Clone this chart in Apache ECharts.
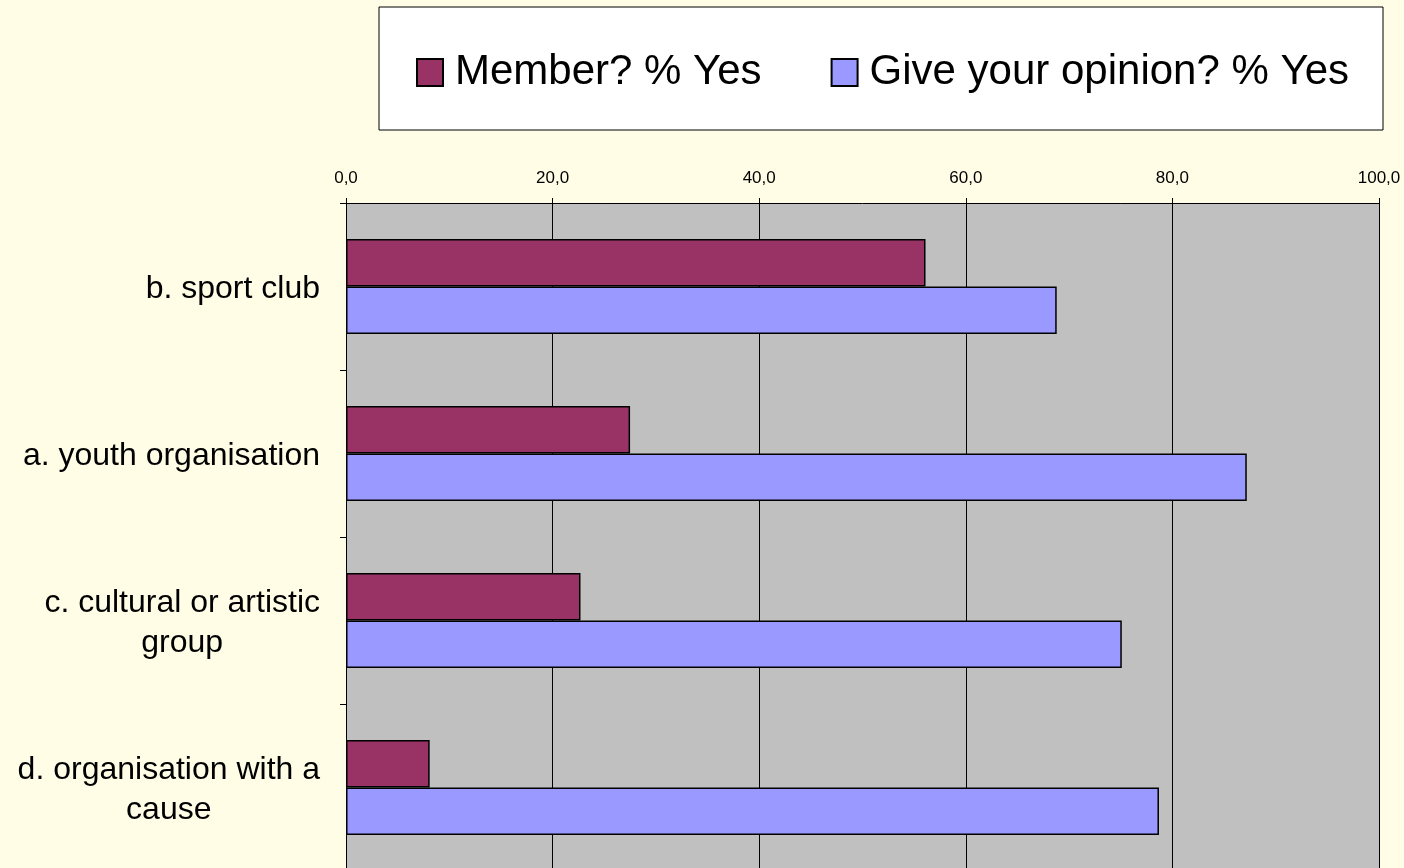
<!DOCTYPE html>
<html>
<head>
<meta charset="utf-8">
<style>
  html, body { margin: 0; padding: 0; background: #FFFDE6; }
  #chart { width: 1404px; height: 868px; }
</style>
<script src="https://cdn.jsdelivr.net/npm/echarts@6/dist/echarts.min.js"></script>
</head>
<body>
<div id="chart"></div>
<script>
// categories, top to bottom
const categories = [
  'b. sport club',
  'a. youth organisation',
  'c. cultural or artistic\ngroup',
  'd. organisation with a\ncause'
]
const memberYes = [56.1, 27.5, 22.7, 8.1]
const opinionYes = [68.8, 87.2, 75.1, 78.7]
const seriesNames = ['Member? % Yes', 'Give your opinion? % Yes']

const chart = echarts.init(document.getElementById('chart'))

chart.setOption({
  backgroundColor: '#FFFDE6',
  animation: false,
  textStyle: { fontFamily: 'Liberation Sans, Arial, sans-serif' },
  legend: {
    left: 379,
    top: 7,
    padding: [44, 34, 36, 37],
    backgroundColor: '#ffffff',
    borderColor: '#000000',
    borderWidth: 1,
    itemWidth: 26,
    itemHeight: 27,
    itemGap: 69,
    icon: 'rect',
    textStyle: {
      fontSize: 42,
      color: '#000',
      lineHeight: 43,
      padding: [0, 0, 0, 7]
    },
    data: seriesNames
  },
  grid: {
    left: 346,
    right: 25,
    top: 203,
    bottom: -3,
    containLabel: false,
    outerBoundsMode: 'none'
  },
  xAxis: {
    type: 'value',
    position: 'top',
    min: 0,
    max: 100,
    interval: 20,
    axisLine: { show: true, lineStyle: { color: '#000', width: 1 } },
    axisTick: { show: true, length: 5, lineStyle: { color: '#000' } },
    axisLabel: {
      fontSize: 17,
      color: '#000',
      margin: 16,
      formatter: v => v.toFixed(1).replace('.', ',')
    },
    splitLine: { show: true, lineStyle: { color: '#000', width: 1 } }
  },
  yAxis: {
    type: 'category',
    inverse: true,
    data: categories,
    axisLine: { show: true, lineStyle: { color: '#000', width: 1 } },
    axisTick: { show: true, length: 6, lineStyle: { color: '#000' } },
    axisLabel: {
      margin: 26,
      color: '#000',
      fontSize: 32,
      lineHeight: 40,
      padding: [5, 0, 0, 0],
      formatter: v => v.split('\n').map(s => '{c|' + s + '}').join('\n'),
      rich: {
        c: { fontSize: 32, lineHeight: 40, align: 'center', color: '#000' }
      }
    },
    splitArea: { show: true, areaStyle: { color: ['#C0C0C0', '#C0C0C0'] } }
  },
  series: [
    {
      name: seriesNames[0],
      type: 'bar',
      data: memberYes,
      barGap: '0%',
      barCategoryGap: '43%',
      itemStyle: { color: '#993366', borderColor: '#000', borderWidth: 1.5 }
    },
    {
      name: seriesNames[1],
      type: 'bar',
      data: opinionYes,
      barGap: '0%',
      barCategoryGap: '43%',
      itemStyle: { color: '#9999FF', borderColor: '#000', borderWidth: 1.5 }
    }
  ]
})
</script>
</body>
</html>
